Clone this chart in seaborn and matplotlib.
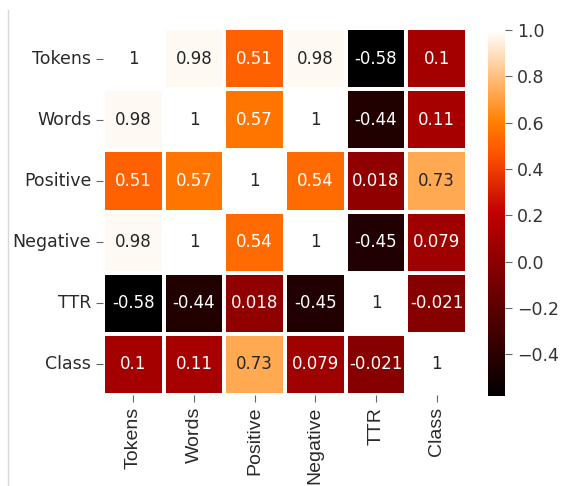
import matplotlib
matplotlib.use("Agg")
import matplotlib.pyplot as plt
import seaborn as sns
import pandas as pd

features = ["Tokens", "Words", "Positive", "Negative", "TTR", "Class"]
row_tokens = [1, 0.98, 0.51, 0.98, -0.58, 0.1]
row_words = [0.98, 1, 0.57, 1, -0.44, 0.11]
row_positive = [0.51, 0.57, 1, 0.54, 0.018, 0.73]
row_negative = [0.98, 1, 0.54, 1, -0.45, 0.079]
row_ttr = [-0.58, -0.44, 0.018, -0.45, 1, -0.021]
row_class = [0.1, 0.11, 0.73, 0.079, -0.021, 1]

corr = pd.DataFrame(
    [row_tokens, row_words, row_positive, row_negative, row_ttr, row_class],
    index=features, columns=features,
)

W, H = 572, 486
fig = plt.figure(figsize=(W / 100, H / 100), dpi=100)
ax = fig.add_axes([103 / W, 1 - 395 / H, 364 / W, 367 / H])
cax = fig.add_axes([488 / W, 1 - 396 / H, 17 / W, 366 / H])

sns.heatmap(
    corr, ax=ax, cbar_ax=cax, cmap="gist_heat", annot=True,
    linewidths=1.5, linecolor="white",
    annot_kws={"fontsize": 12},
)

ax.tick_params(axis="y", labelsize=12.5, rotation=0, length=5, color="#666666")
ax.tick_params(axis="x", labelsize=14, rotation=90, length=5, color="#666666")
for lbl in ax.get_xticklabels():
    lbl.set_family(["Liberation Sans", "DejaVu Sans"])
    lbl.set_color("#2a2a2a")
for lbl in ax.get_yticklabels():
    lbl.set_color("#2a2a2a")

cax.tick_params(labelsize=12.5, length=5, color="#666666", labelcolor="#333333")
cax.set_yticks([-0.4, -0.2, 0.0, 0.2, 0.4, 0.6, 0.8, 1.0])

fig.add_artist(plt.Line2D([8 / W, 8 / W], [0, 1 - 10 / H], color="#d8d8d8", lw=1))

fig.savefig("out.png", dpi=100)
